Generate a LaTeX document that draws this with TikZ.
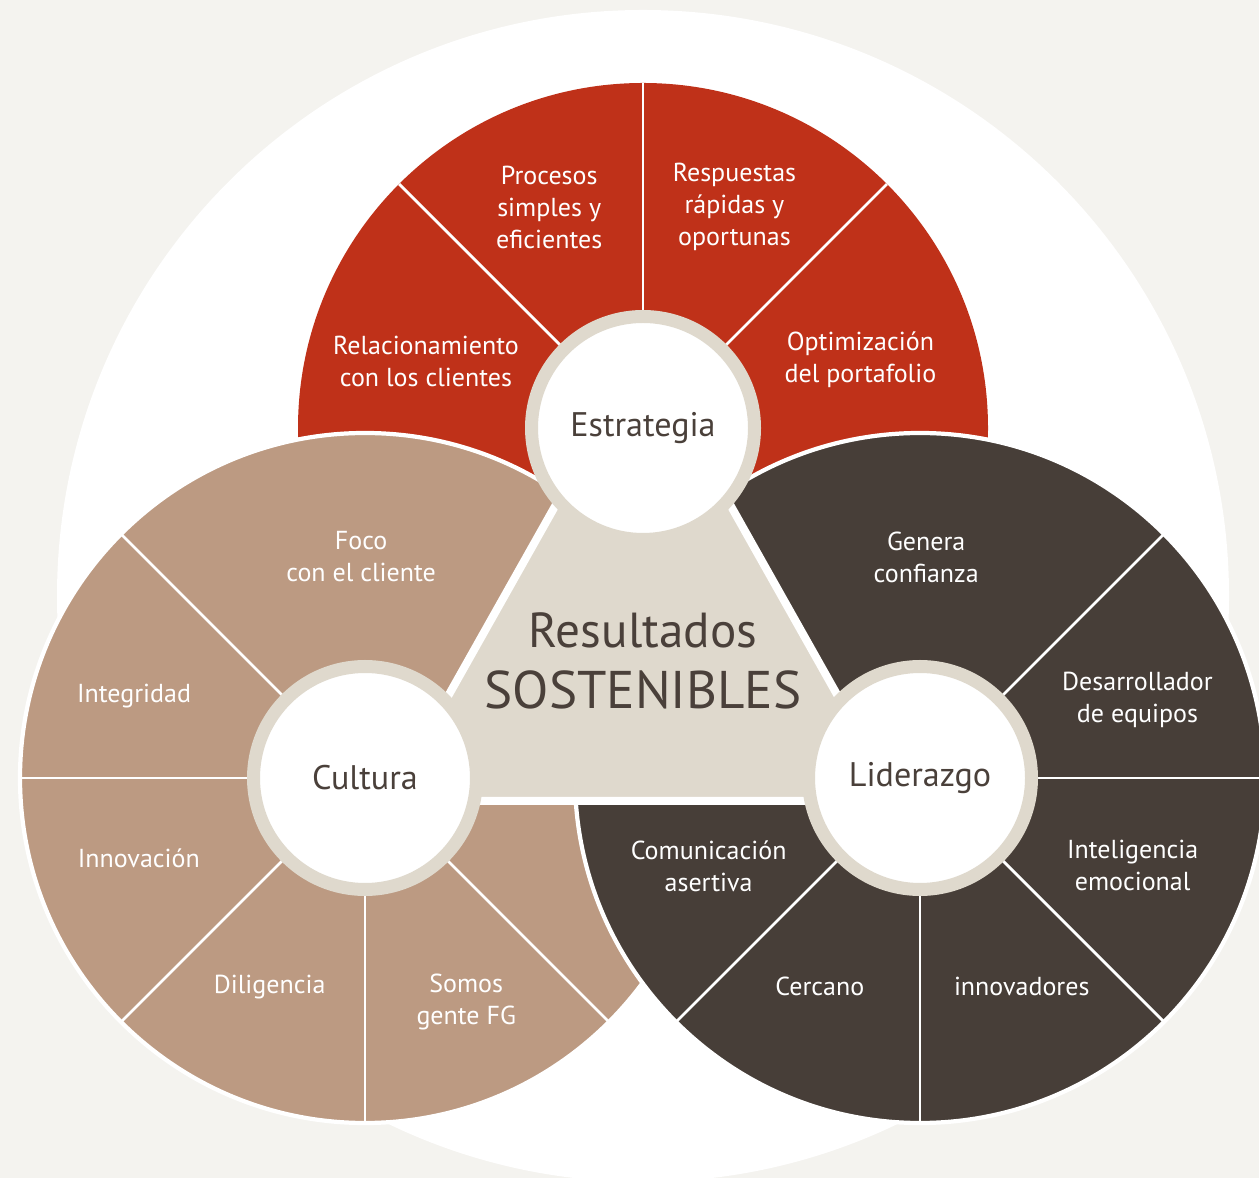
\documentclass[tikz,border=0pt]{standalone}
\usepackage{fontspec}
\setmainfont{PT Sans}

\definecolor{bgpaper}{HTML}{F4F3EF}
\definecolor{estred}{HTML}{BF3119}
\definecolor{cultan}{HTML}{BC9A82}
\definecolor{lidbrown}{HTML}{473E38}
\definecolor{hubbeige}{HTML}{DFD9CD}
\definecolor{textdark}{HTML}{4A403A}

\tikzset{
    sector/.style={white, line width=0.8pt},
    petal/.style={text=white, align=center, inner sep=0pt, font=\fontsize{7.4}{9.1}\selectfont},
    hub/.style={circle, draw=hubbeige, line width=0.13cm, fill=white, minimum size=2.23cm,
        inner sep=0pt, text=textdark, font=\fontsize{9.7}{11}\selectfont},
}

\begin{document}
\begin{tikzpicture}

        % Page and white backdrop
        \clip (0,0) rectangle (12.59,11.78);
        \fill[bgpaper] (0,0) rectangle (12.59,11.78);
        \fill[white] (6.43,5.82) circle (5.86cm);

        % Estrategia (red)
        \begin{scope}[shift={(6.43,7.50)}]
            \fill[estred] (0,0) circle (3.45cm);
            \foreach \a in {45,90,135} {
                \draw[sector] (\a:1.15cm) -- (\a:3.45cm);
            }
            \foreach \a/\r/\txt [count=\k] in {113/2.40/Procesos\\simples y\\eficientes,
                    67.5/2.39/Respuestas\\rápidas y\\oportunas,
                    163/2.27/Relacionamiento\\con los clientes,
                    17.5/2.28/Optimización\\del portafolio} {
                \node[petal] (est\k) at (\a:\r cm) {\txt};
            }
        \end{scope}

        % Cultura (tan)
        \begin{scope}[shift={(3.65,4.00)}]
            \filldraw[fill=cultan, draw=white, line width=1.2pt] (0,0) circle (3.45cm);
            \foreach \a in {135,180,225,270,315} {
                \draw[sector] (\a:1.15cm) -- (\a:3.45cm);
            }
            \foreach \a/\r/\txt [count=\k] in {91/2.21/Foco\\con el cliente,
                    160.5/2.45/Integridad,
                    199.5/2.40/Innovación,
                    245.5/2.30/Diligencia,
                    294.3/2.46/Somos\\gente FG} {
                \node[petal] (cul\k) at (\a:\r cm) {\txt};
            }
        \end{scope}

        % Liderazgo (dark brown)
        \begin{scope}[shift={(9.20,4.00)}]
            \filldraw[fill=lidbrown, draw=white, line width=1.2pt] (0,0) circle (3.45cm);
            \foreach \a in {45,0,-45,-90,-135} {
                \draw[sector] (\a:1.15cm) -- (\a:3.45cm);
            }
            \foreach \a/\r/\txt [count=\k] in {88.4/2.21/Genera\\confianza,
                    19.7/2.31/Desarrollador\\de equipos,
                    -22.4/2.30/Inteligencia\\emocional,
                    202.6/2.29/Comunicación\\asertiva,
                    244.3/2.31/Cercano,
                    296/2.32/innovadores} {
                \node[petal] (lid\k) at (\a:\r cm) {\txt};
            }
        \end{scope}

        % Central triangle
        \filldraw[fill=hubbeige, draw=white, line width=0.08cm]
            (6.43,8.28) -- (3.89,3.77) -- (8.97,3.77) -- cycle;
        \node[text=textdark, font=\fontsize{14}{16}\selectfont] (res) at (6.43,5.48) {Resultados};
        \node[text=textdark, font=\fontsize{15.1}{18}\selectfont] (sost) at (6.43,4.88) {SOSTENIBLES};

        % Hubs
        \node[hub] (estrategia) at (6.43,7.50) {Estrategia};
        \node[hub] (cultura) at (3.65,4.00) {Cultura};
        \node[hub] (liderazgo) at (9.20,4.00) {Liderazgo};

\end{tikzpicture}
\end{document}
